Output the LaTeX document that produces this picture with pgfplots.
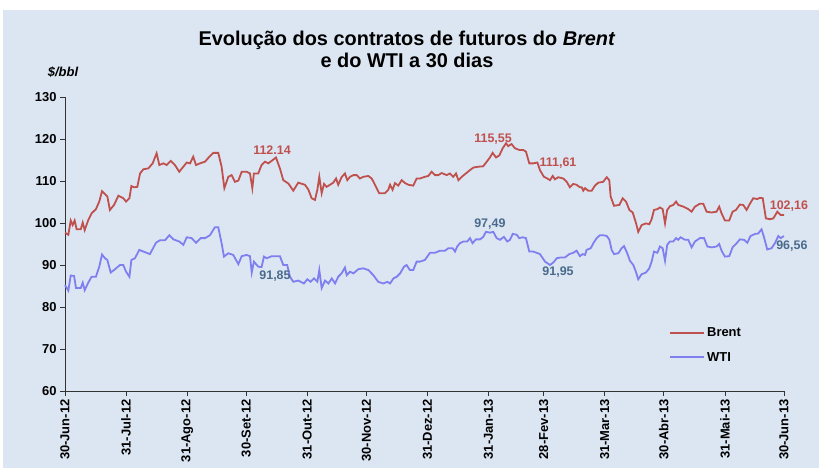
\documentclass[border=0pt]{standalone}
\usepackage{pgfplots}
\pgfplotsset{compat=1.18}
\usepackage{fontspec}
\setmainfont{Liberation Sans}
\definecolor{bg}{HTML}{DCE6F2}
\definecolor{brentc}{HTML}{C0504D}
\definecolor{wtic}{HTML}{7F7FEF}
\definecolor{wtilab}{HTML}{4A6B8C}
\newcommand{\lf}{\bfseries\fontsize{13}{15}\selectfont}
\newcommand{\df}{\bfseries\fontsize{12.5}{14}\selectfont}
\begin{document}
\begin{tikzpicture}
\path (0bp,0bp) rectangle (819bp,468bp);
\fill[bg] (3bp,0bp) rectangle (819bp,458bp);
\node[font=\bfseries\fontsize{20}{22}\selectfont, align=center] at (407bp,419bp) {Evolução dos contratos de futuros do \textit{Brent}\\e do WTI a 30 dias};
\node[font=\bfseries\itshape\fontsize{13}{15}\selectfont] at (63bp,396bp) {\$/bbl};
\begin{axis}[
  at={(65bp,77bp)}, anchor=south west,
  scale only axis, width=719bp, height=294bp,
  xmin=0, xmax=365, ymin=60, ymax=130,
  axis x line*=bottom, axis y line*=left,
  axis line style={-, draw=black!80, line width=0.8bp},
  tick style={draw=black!80, line width=0.8bp},
  tick align=outside, major tick length=5bp,
  xtick={0,31,62,92,123,153,184,215,243,274,304,335,365},
  xticklabels={30-Jun-12,31-Jul-12,31-Ago-12,30-Set-12,31-Out-12,30-Nov-12,31-Dez-12,31-Jan-13,28-Fev-13,31-Mar-13,30-Abr-13,31-Mai-13,30-Jun-13},
  xticklabel style={rotate=90, anchor=east, font=\lf},
  ytick={60,70,80,90,100,110,120,130},
  yticklabel style={font=\lf},
  /pgf/number format/assume math mode=true,
  clip=false,
  legend style={draw=none, fill=none, at={(0.84,0.156)}, anchor=west, font=\lf, row sep=10bp, inner sep=0pt},
  legend cell align=left,
  legend image code/.code={\draw[#1] (0bp,0bp) -- (34bp,0bp);},
]
\addlegendimage{draw=brentc, line width=2bp}
\addlegendentry{Brent}
\addlegendimage{draw=wtic, line width=2bp}
\addlegendentry{WTI}
\addplot[color=brentc, line width=1.8bp, forget plot] coordinates {
(0,97.7) (1.7,97.2) (2.9,100.6) (3.9,99.5) (4.9,100.6) (5.9,98.5) (8.0,98.5) (9.0,100.1) (10.0,98.3) (11.8,100.7)
(13.5,102.3) (15.7,103.3) (17.4,105.1) (18.8,107.6) (20.3,106.9) (21.5,106.3) (22.8,103.1) (24.9,104.3) (27.1,106.5) (29.6,105.9)
(31.0,105.1) (32.7,105.9) (33.7,108.8) (35.0,108.5) (36.7,108.6) (38.1,111.8) (39.8,112.8) (42.3,113.0) (44.5,114.2) (46.5,116.6)
(47.9,113.8) (49.9,114.2) (51.6,113.8) (53.7,114.8) (55.8,113.8) (58.0,112.2) (61.8,114.4) (63.5,114.2) (65.1,115.8) (66.5,113.8)
(68.5,114.2) (71.1,114.6) (73.3,115.8) (75.3,116.7) (77.8,116.7) (79.5,113.4) (80.9,108.3) (82.9,111.0) (84.6,111.4) (86.3,109.8)
(88.0,110.1) (89.7,112.2) (92.2,112.2) (93.9,111.8) (95.1,108.3) (95.9,111.8) (98.1,111.8) (99.8,113.8) (101.5,114.6) (103.2,114.2)
(104.9,114.8) (107.1,115.6) (109.1,113.0) (110.8,110.2) (113.4,109.4) (115.9,107.7) (118.4,109.6) (121.8,109.1) (123.5,108.0) (125.2,105.9)
(126.9,105.5) (128.1,107.9) (129.1,111.0) (130.3,107.1) (131.5,109.3) (132.8,108.6) (134.5,109.1) (136.2,109.6) (137.6,110.6) (138.7,109.1)
(140.4,110.9) (142.1,111.8) (143.3,110.2) (144.7,111.0) (146.4,111.4) (148.1,111.4) (149.7,110.6) (151.4,111.0) (154.0,111.2) (155.7,110.6)
(157.9,108.6) (159.5,107.1) (162.4,107.1) (164.1,107.9) (165.0,109.1) (166.3,107.9) (167.5,109.5) (169.2,108.9) (170.9,110.2) (172.6,109.5)
(174.3,109.1) (176.8,108.9) (178.5,110.6) (180.2,110.6) (182.7,111.0) (184.4,111.2) (186.1,112.2) (187.8,111.4) (189.5,111.4) (191.2,111.9)
(193.8,111.4) (195.4,111.8) (197.1,111.0) (198.5,111.8) (199.7,110.2) (201.4,111.0) (203.0,111.6) (205.6,112.6) (207.3,113.2) (209.8,113.4)
(212.3,113.5) (214.1,114.6) (215.7,115.6) (217.1,116.7) (218.8,115.6) (220.5,116.1) (222.2,117.8) (223.9,119.0) (225.0,118.3) (226.7,118.8)
(228.4,117.8) (230.6,117.4) (232.6,117.4) (234.0,117.0) (235.7,114.2) (237.7,114.2) (239.8,114.4) (241.1,112.6) (243.1,111.0) (244.8,110.6)
(246.2,110.2) (247.6,111.2) (248.7,110.4) (250.4,110.9) (252.9,110.6) (254.7,109.8) (256.3,108.5) (258.0,109.3) (259.7,109.1) (261.4,108.5)
(262.3,108.5) (263.1,107.7) (264.0,108.3) (265.6,107.7) (267.4,107.7) (269.0,108.9) (270.7,109.6) (273.2,109.8) (275.0,110.9) (276.3,110.2)
(277.0,106.3) (278.7,104.1) (281.4,104.3) (283.1,105.9) (284.8,105.1) (286.5,103.1) (288.2,102.5) (289.8,100.1) (291.0,97.9) (292.7,99.5)
(294.9,99.9) (296.6,99.7) (297.8,100.9) (299.0,103.1) (300.7,103.3) (302.0,103.7) (303.4,103.3) (304.6,99.9) (305.7,103.1) (307.1,104.0)
(308.8,104.3) (310.2,105.1) (311.3,104.3) (313.9,103.9) (316.4,103.3) (318.1,102.7) (319.8,103.9) (322.3,104.6) (324.0,104.6) (325.7,102.7)
(328.3,102.5) (330.8,102.7) (332.1,103.9) (333.3,102.3) (335.0,100.6) (337.2,100.6) (338.9,102.7) (340.6,103.1) (342.6,104.4) (344.3,104.3)
(346.0,103.1) (347.7,104.6) (349.4,105.9) (351.4,105.7) (352.8,106.0) (354.2,105.9) (355.8,101.1) (357.9,100.9) (359.6,101.1) (361.6,102.7)
(363.3,101.9) (365.0,101.9)
};
\addplot[color=wtic, line width=1.8bp, forget plot] coordinates {
(0,85.2) (1.7,83.9) (2.9,87.5) (4.6,87.4) (5.6,84.5) (8.0,84.5) (9.0,85.8) (10.0,84.0) (11.8,85.8) (13.5,87.2)
(15.7,87.2) (17.4,89.6) (18.8,92.5) (20.3,91.6) (21.5,91.2) (23.2,88.2) (25.4,89.0) (27.9,90.0) (29.6,90.0) (31.0,88.4)
(32.7,87.2) (33.7,91.2) (35.5,91.6) (37.7,93.6) (39.8,93.2) (43.1,92.6) (46.2,95.3) (48.2,95.9) (50.8,95.9) (53.0,97.1)
(55.0,96.1) (58.0,95.6) (60.1,94.8) (61.8,96.6) (64.3,96.4) (66.5,95.3) (68.9,96.4) (71.1,96.4) (73.6,97.1) (76.1,99.0)
(77.8,99.0) (79.5,95.2) (80.7,92.0) (82.9,92.8) (85.4,92.4) (88.0,90.2) (89.7,92.1) (92.2,92.4) (93.9,92.1) (94.8,88.2)
(95.9,90.8) (98.1,89.6) (99.8,89.5) (101.0,92.0) (102.4,91.6) (104.9,92.1) (109.1,92.1) (110.8,90.0) (112.8,90.0) (114.2,87.2)
(115.9,86.0) (118.4,86.3) (121.3,85.6) (123.0,86.6) (124.7,86.0) (126.4,86.8) (128.1,86.0) (129.1,88.8) (130.3,84.5) (132.0,86.3)
(133.7,85.6) (135.4,86.8) (137.1,85.6) (138.7,87.2) (140.4,88.0) (142.1,89.4) (143.0,87.6) (144.7,88.4) (146.4,88.0) (148.9,89.0)
(151.4,89.2) (154.0,88.8) (156.5,87.6) (159.0,86.0) (161.6,85.6) (163.6,86.0) (165.0,85.6) (166.7,86.8) (168.4,87.2) (170.1,88.0)
(172.1,89.6) (173.4,90.0) (175.1,88.8) (176.8,88.8) (178.5,90.8) (180.2,90.8) (182.7,91.2) (185.3,92.9) (187.8,92.9) (190.4,93.4)
(192.9,93.4) (194.6,94.0) (196.8,94.0) (198.0,93.2) (199.1,94.4) (200.5,95.2) (202.2,95.6) (204.2,95.6) (205.6,96.4) (206.9,95.2)
(208.6,96.1) (210.7,96.1) (212.3,96.7) (213.7,97.9) (215.7,97.7) (217.4,97.9) (219.1,96.4) (220.8,96.0) (222.8,96.7) (224.5,95.6)
(225.9,96.0) (227.3,97.4) (229.3,97.2) (230.6,96.4) (232.3,96.6) (234.0,96.4) (235.7,93.2) (237.7,93.2) (239.4,92.9) (241.1,92.6)
(243.7,90.8) (246.2,90.0) (247.9,90.6) (249.6,91.6) (251.6,91.8) (253.8,91.8) (256.0,92.6) (258.0,92.9) (259.7,93.4) (261.4,92.1)
(262.8,92.6) (264.0,92.4) (264.8,93.6) (266.9,94.0) (268.2,95.2) (269.9,96.4) (271.6,97.1) (273.2,97.1) (275.0,96.9) (276.3,96.1)
(277.5,93.6) (278.7,92.6) (280.9,92.8) (282.6,94.0) (283.8,94.5) (285.4,92.8) (286.8,91.0) (288.5,90.0) (289.8,88.4) (291.0,86.6)
(292.7,87.8) (294.9,88.2) (296.6,89.2) (297.8,90.8) (299.0,93.2) (300.7,92.9) (302.0,94.4) (303.4,94.0) (304.6,91.0) (305.7,94.8)
(307.1,95.6) (308.8,95.6) (310.2,96.4) (311.3,96.0) (312.5,96.6) (314.7,96.0) (316.4,96.0) (318.1,94.2) (319.8,95.6) (322.3,96.4)
(324.4,96.4) (326.1,94.4) (328.3,94.2) (330.8,94.4) (332.1,95.0) (333.3,93.4) (335.0,92.0) (337.2,92.1) (338.9,94.2) (341.0,95.2)
(342.6,96.1) (344.7,96.0) (346.4,95.3) (348.0,96.9) (350.3,97.4) (351.9,97.5) (353.6,98.5) (354.8,96.7) (356.5,93.7) (358.7,94.0)
(360.4,95.2) (362.1,96.9) (363.3,96.4) (365.0,96.9)
};
\node[font=\df, text=brentc] at (axis cs:105.1,117.4) {112.14};
\node[font=\df, text=wtilab] at (axis cs:106.6,87.4) {91,85};
\node[font=\df, text=brentc] at (axis cs:217.3,120.0) {115,55};
\node[font=\df, text=wtilab] at (axis cs:215.7,99.8) {97,49};
\node[font=\df, text=brentc] at (axis cs:250.3,114.3) {111,61};
\node[font=\df, text=wtilab] at (axis cs:250.3,88.3) {91,95};
\node[font=\df, text=brentc] at (axis cs:367.5,104.0) {102,16};
\node[font=\df, text=wtilab] at (axis cs:369.0,94.5) {96,56};
\end{axis}
\end{tikzpicture}
\end{document}
